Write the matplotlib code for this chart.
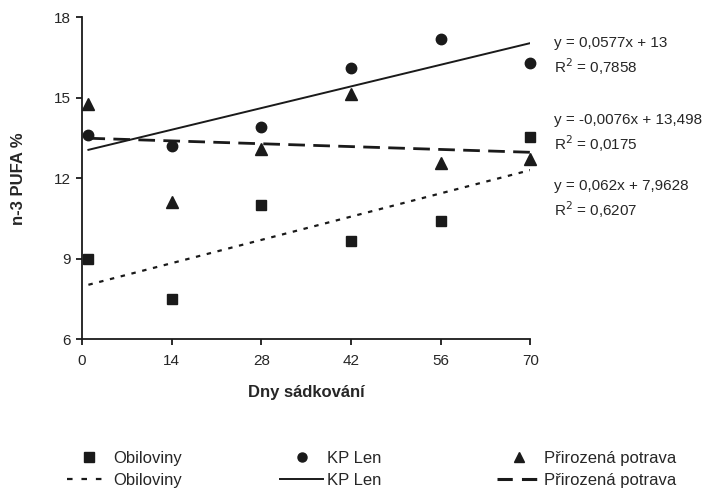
import matplotlib
matplotlib.use("Agg")
import matplotlib.pyplot as plt
import numpy as np
from matplotlib.lines import Line2D

plt.rcParams['font.family'] = ['Liberation Sans', 'DejaVu Sans']

days = [1, 14, 28, 42, 56, 70]
obiloviny = [9.0, 7.5, 11.0, 9.65, 10.4, 13.55]
kp_len = [13.6, 13.2, 13.9, 16.1, 17.2, 16.3]
prirozena = [14.75, 11.1, 13.1, 15.15, 12.55, 12.7]

fit_obil = (0.062, 7.9628)
fit_kp = (0.0577, 13.0)
fit_pri = (-0.0076, 13.498)

eq_texts = [("y = 0,0577x + 13", "R$^2$ = 0,7858"),
            ("y = -0,0076x + 13,498", "R$^2$ = 0,0175"),
            ("y = 0,062x + 7,9628", "R$^2$ = 0,6207")]

xticks = [0, 14, 28, 42, 56, 70]
yticks = [6, 9, 12, 15, 18]

c = '#1a1a1a'
tc = '#262626'
fig = plt.figure(figsize=(7.05, 4.95), dpi=100)
ax = fig.add_axes([0.1163, 0.315, 0.636, 0.65])

ax.plot(days, obiloviny, 's', color=c, ms=7.5, ls='none', clip_on=False, zorder=3)
ax.plot(days, kp_len, 'o', color=c, ms=7.5, ls='none', clip_on=False, zorder=3)
ax.plot(days, prirozena, '^', color=c, ms=8, ls='none', clip_on=False, zorder=3)

xl = np.array([days[0], days[-1]])
ax.plot(xl, fit_obil[0] * xl + fit_obil[1], color=c, lw=1.6, dashes=(2, 3))
ax.plot(xl, fit_kp[0] * xl + fit_kp[1], color=c, lw=1.4)
ax.plot(xl, fit_pri[0] * xl + fit_pri[1], color=c, lw=2, dashes=(6, 3))

ax.set_xlim(0, 70)
ax.set_ylim(6, 18)
ax.set_xticks(xticks)
ax.set_yticks(yticks)
ax.spines['top'].set_visible(False)
ax.spines['right'].set_visible(False)
for s in ['left', 'bottom']:
    ax.spines[s].set_linewidth(1.3)
    ax.spines[s].set_color(c)
ax.tick_params(direction='out', length=4, width=1.3, labelsize=11, colors=c, labelcolor=tc)
ax.tick_params(axis='x', pad=7)
ax.tick_params(axis='y', pad=4)
ax.set_xlabel('Dny sádkování', fontsize=12, fontweight='bold', color=tc, labelpad=12)
ax.set_ylabel('n-3 PUFA %', fontsize=12, fontweight='bold', color=tc, labelpad=20)

ypos = [(43, 67), (120, 144), (186, 210)]
for (eq, r2), (y1, y2) in zip(eq_texts, ypos):
    fig.text(554 / 705, 1 - y1 / 495, eq, fontsize=11, color=tc, va='center', ha='left')
    fig.text(554 / 705, 1 - y2 / 495, r2, fontsize=11, color=tc, va='center', ha='left')

groups = [
    (Line2D([], [], marker='s', color=c, ls='none', ms=6.5),
     Line2D([], [], color=c, lw=1.6, dashes=(2.5, 4)), 'Obiloviny', 67),
    (Line2D([], [], marker='o', color=c, ls='none', ms=6.5),
     Line2D([], [], color=c, lw=1.4), 'KP Len', 280),
    (Line2D([], [], marker='^', color=c, ls='none', ms=7),
     Line2D([], [], color=c, lw=2.2, dashes=(5, 3)), 'Přirozená potrava', 497),
]
for mh, lh, lab, xpx in groups:
    leg = fig.legend([mh, lh], [lab, lab], loc='upper left',
                     bbox_to_anchor=(xpx / 705, 1 - 451 / 495),
                     frameon=False, fontsize=12, handlelength=2.6,
                     handletextpad=0.2, labelspacing=0.4,
                     borderaxespad=0, borderpad=0, numpoints=1)
    for t in leg.get_texts():
        t.set_color(tc)

fig.savefig('out.png', dpi=100)
